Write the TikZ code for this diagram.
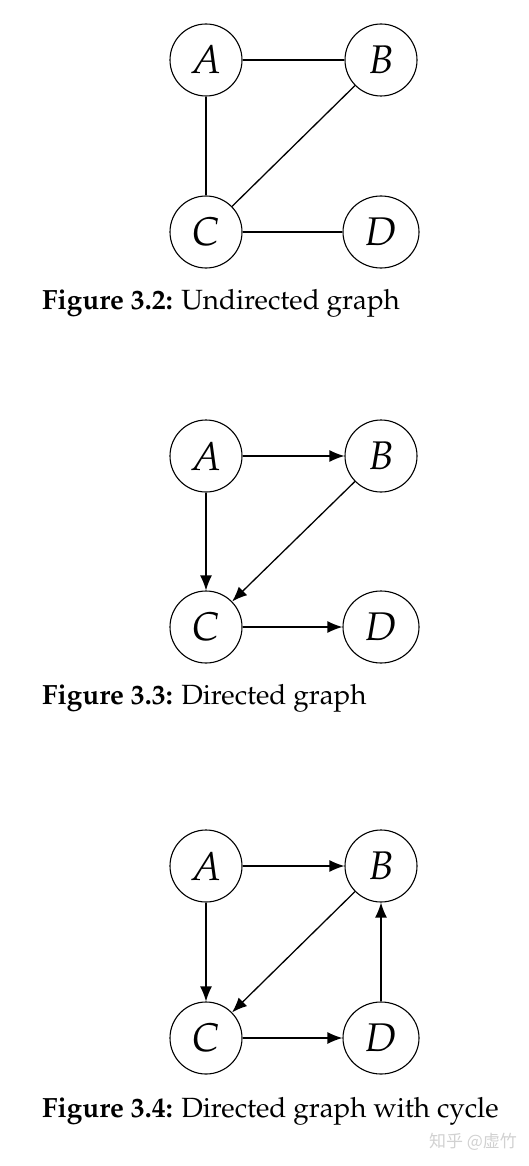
\documentclass[tikz,border=0pt]{standalone}
\usepackage{fontspec}
\newfontfamily\cjk{Noto Sans CJK SC}
\usepackage[T1]{fontenc}
\usepackage{mathpazo}
\usetikzlibrary{shapes.geometric,arrows.meta}
\begin{document}
\begin{tikzpicture}[x=1pt,y=-1pt,
  vertex/.style={draw,line width=1.1pt,shape=ellipse,minimum width=72pt,minimum height=72pt,inner sep=0pt,font=\fontsize{40}{40}\selectfont},
  edge/.style={line width=1.3pt},
  arc/.style={line width=1.3pt,-{Latex[length=15pt,width=12pt]}},
  captext/.style={anchor=base west,inner sep=0pt,font=\fontsize{27.8}{32}\selectfont},
]
\useasboundingbox (0,0) rectangle (528,1166);
% Figure 3.2
\node[vertex] (a1) at (206,60) {$A$};
\node[vertex] (b1) at (381,60) {$B$};
\node[vertex] (c1) at (206,232) {$C$};
\node[vertex,minimum width=76pt] (d1) at (381,232) {$D$};
\draw[edge] (a1) -- (b1);
\draw[edge] (a1) -- (c1);
\draw[edge] (b1) -- (c1);
\draw[edge] (c1) -- (d1);
\node[captext] (t1) at (42,309) {\textbf{Figure 3.2:} Undirected graph};
% Figure 3.3
\node[vertex] (a2) at (206,456) {$A$};
\node[vertex] (b2) at (381,456) {$B$};
\node[vertex] (c2) at (206,627) {$C$};
\node[vertex,minimum width=76pt] (d2) at (381,627) {$D$};
\draw[arc] (a2) -- (b2);
\draw[arc] (a2) -- (c2);
\draw[arc] (b2) -- (c2);
\draw[arc] (c2) -- (d2);
\node[captext] (t2) at (42,704) {\textbf{Figure 3.3:} Directed graph};
% Figure 3.4
\node[vertex] (a3) at (206,866) {$A$};
\node[vertex] (b3) at (381,866) {$B$};
\node[vertex] (c3) at (206,1038) {$C$};
\node[vertex,minimum width=76pt] (d3) at (381,1038) {$D$};
\draw[arc] (a3) -- (b3);
\draw[arc] (a3) -- (c3);
\draw[arc] (b3) -- (c3);
\draw[arc] (c3) -- (d3);
\draw[arc] (d3) -- (b3);
\node[captext] (t3) at (42,1117) {\textbf{Figure 3.4:} Directed graph with cycle};
% watermark
\node[anchor=center,inner sep=0pt,text=black!18,font=\cjk\fontsize{17}{17}\selectfont] (wm) at (473,1142) {知乎 @虚竹};
\end{tikzpicture}
\end{document}
